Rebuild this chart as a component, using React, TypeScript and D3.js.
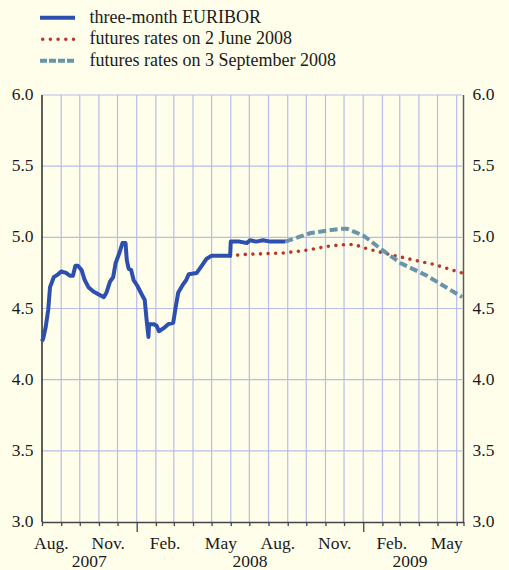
import React, { useEffect, useRef } from 'react';
import * as d3 from 'd3';

// three-month EURIBOR
const euriborDates = [
  '2007-08-01', '2007-08-03', '2007-08-07', '2007-08-11', '2007-08-14', '2007-08-20', '2007-08-27',
  '2007-09-01', '2007-09-09', '2007-09-15', '2007-09-20', '2007-09-24', '2007-09-28',
  '2007-10-04', '2007-10-09', '2007-10-15', '2007-10-23', '2007-10-31',
  '2007-11-09', '2007-11-13', '2007-11-19', '2007-11-24', '2007-11-28',
  '2007-12-04', '2007-12-09', '2007-12-14', '2007-12-16', '2007-12-19', '2007-12-23', '2007-12-27',
  '2008-01-02', '2008-01-09', '2008-01-14', '2008-01-17', '2008-01-20', '2008-01-21', '2008-01-28',
  '2008-02-02', '2008-02-06', '2008-02-13', '2008-02-21', '2008-02-29',
  '2008-03-04', '2008-03-08', '2008-03-16', '2008-03-21', '2008-03-25',
  '2008-04-07', '2008-04-15', '2008-04-23', '2008-05-01', '2008-05-15', '2008-05-28', '2008-05-31',
  '2008-06-01', '2008-06-15', '2008-06-27', '2008-07-02', '2008-07-12', '2008-07-23', '2008-08-04',
  '2008-08-15', '2008-08-28',
];
const euriborValues = [
  4.27, 4.29, 4.37, 4.49, 4.65, 4.72, 4.74,
  4.76, 4.75, 4.73, 4.73, 4.8, 4.8,
  4.77, 4.7, 4.65, 4.62, 4.6,
  4.58, 4.61, 4.69, 4.72, 4.82,
  4.89, 4.96, 4.96, 4.84, 4.78, 4.77, 4.7,
  4.66, 4.6, 4.56, 4.42, 4.3, 4.39, 4.39,
  4.38, 4.34, 4.36, 4.39, 4.4,
  4.51, 4.61, 4.67, 4.7, 4.74,
  4.75, 4.8, 4.85, 4.87, 4.87, 4.87, 4.87,
  4.97, 4.97, 4.96, 4.98, 4.97, 4.98, 4.97,
  4.97, 4.97,
];

// futures rates on 2 June 2008
const juneDates = [
  '2008-05-31', '2008-06-24', '2008-08-25', '2008-10-02', '2008-11-09', '2008-12-06',
  '2008-12-17', '2009-01-07', '2009-02-03', '2009-03-24', '2009-04-25', '2009-06-09',
];
const juneValues = [4.87, 4.88, 4.89, 4.91, 4.94, 4.95, 4.95, 4.92, 4.89, 4.84, 4.81, 4.75];

// futures rates on 3 September 2008
const septDates = [
  '2008-08-28', '2008-10-08', '2008-11-25', '2008-12-06', '2008-12-17', '2009-01-02',
  '2009-01-29', '2009-03-02', '2009-04-14', '2009-06-10',
];
const septValues = [4.97, 5.03, 5.06, 5.06, 5.04, 5.01, 4.92, 4.82, 4.73, 4.58];

const yTicks = [3.0, 3.5, 4.0, 4.5, 5.0, 5.5, 6.0];
const monthLabels = { 7: 'Aug.', 10: 'Nov.', 1: 'Feb.', 4: 'May' };
const years = ['2007', '2008', '2009'];
const legendLabels = [
  'three-month EURIBOR',
  'futures rates on 2 June 2008',
  'futures rates on 3 September 2008',
];

const BG = '#fffeeb';
const GRID = '#b7bde9';
const BLUE = '#2d4fae';
const RED = '#b8392c';
const TEAL = '#6896a8';
const FONT = '"Liberation Serif", "Times New Roman", serif';

export default function App() {
  const ref = useRef<SVGSVGElement>(null);
  const width = 509,
    height = 570;
  const margin = { top: 95, right: 45.5, bottom: 48, left: 42 };

  useEffect(() => {
    const svg = d3.select(ref.current);
    svg.selectAll('*').remove();
    const parse = d3.timeParse('%Y-%m-%d');

    const start = parse('2007-08-01') as Date;
    const end = parse('2009-06-12') as Date;
    const x = d3
      .scaleTime()
      .domain([start, end])
      .range([margin.left, width - margin.right]);
    const y = d3
      .scaleLinear()
      .domain([3, 6])
      .range([height - margin.bottom, margin.top]);

    const x0 = margin.left,
      x1 = width - margin.right,
      y0 = height - margin.bottom,
      y1 = margin.top;

    svg.append('rect').attr('width', width).attr('height', height).attr('fill', BG);

    const months = d3.timeMonth.range(start, end);

    // grid
    const grid = svg.append('g').attr('stroke', GRID).attr('stroke-width', 1.2);
    grid
      .selectAll('line.v')
      .data(months.slice(1))
      .join('line')
      .attr('x1', (d) => x(d))
      .attr('x2', (d) => x(d))
      .attr('y1', y1)
      .attr('y2', y0);
    grid
      .selectAll('line.h')
      .data(yTicks.slice(1))
      .join('line')
      .attr('x1', x0)
      .attr('x2', x1 - 1.5)
      .attr('y1', (d) => y(d))
      .attr('y2', (d) => y(d));

    // axes
    svg
      .append('line')
      .attr('x1', x0)
      .attr('x2', x0)
      .attr('y1', y1)
      .attr('y2', y0)
      .attr('stroke', '#2a2a2a')
      .attr('stroke-width', 1.5);
    svg
      .append('line')
      .attr('x1', x1)
      .attr('x2', x1)
      .attr('y1', y1)
      .attr('y2', y0)
      .attr('stroke', '#5a5a5a')
      .attr('stroke-width', 1.5);

    const xAxis = svg
      .append('g')
      .attr('transform', `translate(0,${y0})`)
      .call(
        d3
          .axisBottom(x)
          .tickValues([...months, end])
          .tickSize(4)
          .tickSizeOuter(0)
          .tickFormat(() => '')
      );
    xAxis.select('.domain').attr('stroke', '#444').attr('stroke-width', 1.5);
    xAxis
      .selectAll('.tick line')
      .attr('stroke', '#444')
      .attr('stroke-width', 1.3)
      .attr('y2', (d: any) => (d.getMonth() === 0 && d.getDate() === 1 ? 10 : 4));

    // month labels at mid-month
    const labelled = months.filter((m) => monthLabels[m.getMonth()] !== undefined);
    svg
      .append('g')
      .selectAll('text')
      .data(labelled)
      .join('text')
      .attr('x', (d) => x(new Date(d.getFullYear(), d.getMonth(), 16)))
      .attr('y', 549)
      .attr('text-anchor', 'middle')
      .attr('font-family', FONT)
      .attr('font-size', 17.5)
      .attr('fill', '#1a1a1a')
      .text((d) => monthLabels[d.getMonth()]);

    svg
      .append('g')
      .selectAll('text')
      .data(years)
      .join('text')
      .attr('x', (d) => {
        const a = d3.max([start, new Date(+d, 0, 1)]) as Date;
        const b = d3.min([parse('2009-06-01') as Date, new Date(+d + 1, 0, 1)]) as Date;
        return (x(a) + x(b)) / 2;
      })
      .attr('y', 567)
      .attr('text-anchor', 'middle')
      .attr('font-family', FONT)
      .attr('font-size', 17.5)
      .attr('fill', '#1a1a1a')
      .text((d) => d);

    // y labels, both sides
    const yl = svg.append('g').attr('font-family', FONT).attr('font-size', 17.5).attr('fill', '#1a1a1a');
    yl.selectAll('text')
      .data(yTicks)
      .join('text')
      .attr('x', 33.5)
      .attr('y', (d) => y(d) + 5)
      .attr('text-anchor', 'end')
      .text((d) => d.toFixed(1));
    const yr = svg.append('g').attr('font-family', FONT).attr('font-size', 17.5).attr('fill', '#1a1a1a');
    yr.selectAll('text')
      .data(yTicks)
      .join('text')
      .attr('x', 472.5)
      .attr('y', (d) => y(d) + 5)
      .attr('text-anchor', 'start')
      .text((d) => d.toFixed(1));

    // series
    const line = d3
      .line<[Date, number]>()
      .x((d) => x(d[0]))
      .y((d) => y(d[1]));
    const series = (dates: string[], values: number[]) =>
      dates.map((d, i) => [parse(d) as Date, values[i]] as [Date, number]);

    svg
      .append('path')
      .datum(series(juneDates, juneValues))
      .attr('d', line)
      .attr('fill', 'none')
      .attr('stroke', RED)
      .attr('stroke-width', 3.6)
      .attr('stroke-linecap', 'round')
      .attr('stroke-dasharray', '0 7.6');
    svg
      .append('path')
      .datum(series(septDates, septValues))
      .attr('d', line)
      .attr('fill', 'none')
      .attr('stroke', TEAL)
      .attr('stroke-width', 4)
      .attr('stroke-dasharray', '8 3.5');
    svg
      .append('path')
      .datum(series(euriborDates, euriborValues))
      .attr('d', line)
      .attr('fill', 'none')
      .attr('stroke', BLUE)
      .attr('stroke-width', 4)
      .attr('stroke-linejoin', 'round');

    // legend
    const legend = svg.append('g');
    const styles = [
      { stroke: BLUE, dash: null, cap: 'butt' },
      { stroke: RED, dash: '0 7.7', cap: 'round' },
      { stroke: TEAL, dash: '7 2', cap: 'butt' },
    ];
    legendLabels.forEach((label, i) => {
      const ly = 17.7 + i * 21.5;
      const s = styles[i];
      legend
        .append('line')
        .attr('x1', i === 1 ? 42.7 : 40)
        .attr('x2', i === 1 ? 74 : 75)
        .attr('y1', ly)
        .attr('y2', ly)
        .attr('stroke', s.stroke)
        .attr('stroke-width', i === 1 ? 3.6 : 4)
        .attr('stroke-linecap', s.cap)
        .attr('stroke-dasharray', s.dash);
      legend
        .append('text')
        .attr('x', 89.5)
        .attr('y', ly + 5)
        .attr('font-family', FONT)
        .attr('font-size', 18)
        .attr('fill', '#1a1a1a')
        .text(label);
    });
  }, []);

  return (
    <div style={{ position: 'absolute', left: 0, top: 0 }}>
      <svg ref={ref} width={width} height={height} style={{ display: 'block' }} />
    </div>
  );
}
